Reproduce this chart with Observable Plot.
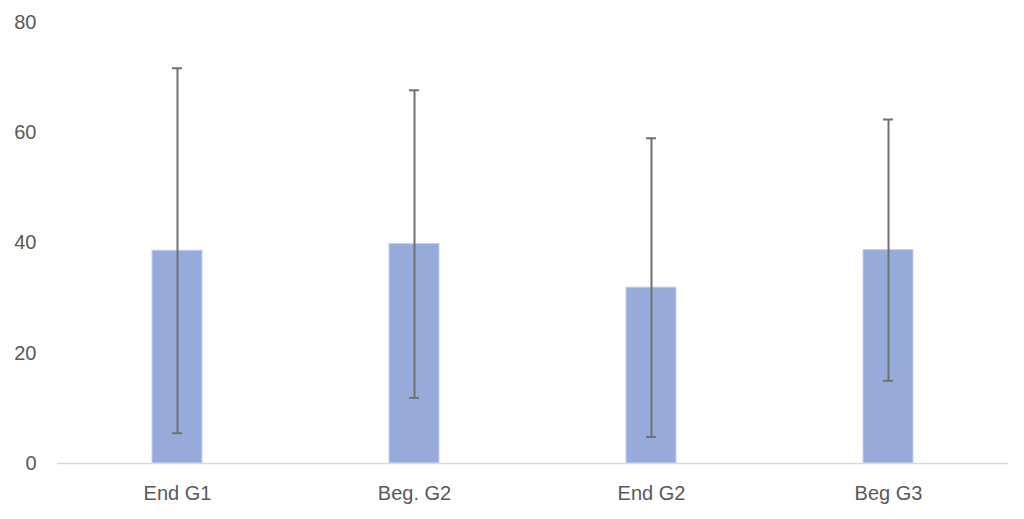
<!DOCTYPE html>
<html>
<head>
<meta charset="utf-8">
<script src="https://cdn.jsdelivr.net/npm/d3@7"></script>
<script src="https://cdn.jsdelivr.net/npm/@observablehq/plot@0.6"></script>
<style>
  html, body { margin: 0; padding: 0; background: #fff; }
  #chart svg { display: block; }
</style>
</head>
<body>
<div id="chart"></div>
<script>
const categories = ["End G1", "Beg. G2", "End G2", "Beg G3"];
const means = [38.6, 39.8, 31.9, 38.7];
const errors = [33.1, 27.9, 27.1, 23.7];
const yTicks = [0, 20, 40, 60, 80];

const data = categories.map((c, i) => ({
  cat: c, value: means[i], lo: means[i] - errors[i], hi: means[i] + errors[i]
}));

const font = "'Liberation Sans', Arial, sans-serif";
const textColor = "#595959";

const chart = Plot.plot({
  width: 1024,
  height: 519,
  marginLeft: 57,
  marginRight: 16,
  marginTop: 22,
  marginBottom: 56,
  style: { fontFamily: font, fontSize: "20px", color: textColor, background: "#fff" },
  x: { domain: categories, paddingInner: 0.79, paddingOuter: 0.395, label: null, tickSize: 0, tickPadding: 22 },
  y: { domain: [0, 80], ticks: yTicks, label: null, tickSize: 0, tickPadding: 21 },
  marks: [
    Plot.barY(data, { x: "cat", y: "value", fill: "#96abd9", stroke: "#c3d0ee", strokeWidth: 1 }),
    Plot.ruleY([0], { stroke: "#d9d9d9", strokeWidth: 1.5 }),
    Plot.ruleX(data, { x: "cat", y1: "lo", y2: "hi", stroke: "#707070", strokeWidth: 2 }),
    Plot.tickY(data, { x: "cat", y: "hi", stroke: "#707070", strokeWidth: 2, insetLeft: 20, insetRight: 20 }),
    Plot.tickY(data, { x: "cat", y: "lo", stroke: "#707070", strokeWidth: 2, insetLeft: 20, insetRight: 20 })
  ]
});
document.getElementById("chart").appendChild(chart);
</script>
</body>
</html>
